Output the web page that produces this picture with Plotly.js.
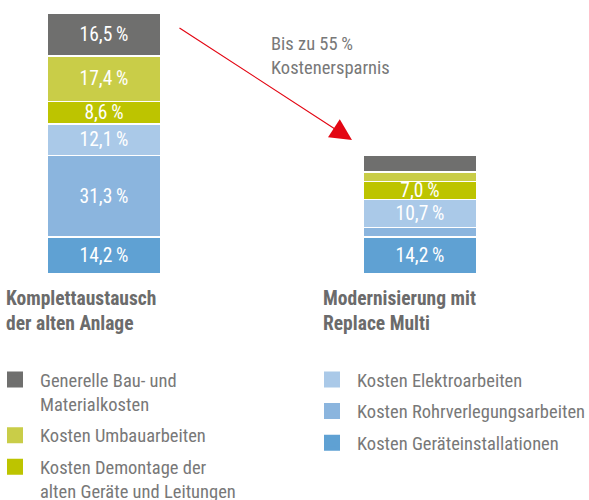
<!DOCTYPE html>
<html><head><meta charset="utf-8">
<script src="https://cdn.plot.ly/plotly-3.0.1.min.js"></script>
<style>body{margin:0;background:#fff}</style>
</head><body><div id="chart" style="width:589px;height:500px"></div>
<script>
// ---- data ----
const categories = ['Komplettaustausch<br>der alten Anlage', 'Modernisierung mit<br>Replace Multi'];
const seriesNames = [
  'Kosten Geräteinstallationen',
  'Kosten Rohrverlegungsarbeiten',
  'Kosten Elektroarbeiten',
  'Kosten Demontage der<br>alten Geräte und Leitungen',
  'Kosten Umbauarbeiten',
  'Generelle Bau- und<br>Materialkosten'
];
const geraeteinstallationen = [14.2, 14.2];
const rohrverlegung = [31.3, 3.6];
const elektro = [12.1, 10.7];
const demontage = [8.6, 7.0];
const umbau = [17.4, 3.6];
const generelle = [16.5, 6.5];
// which values carry a printed label
const geraeteShown = [true, true];
const rohrShown = [true, false];
const elektroShown = [true, true];
const demontageShown = [true, true];
const umbauShown = [true, false];
const generelleShown = [true, false];
const annotationText = 'Bis zu 55\u2009%<br>Kostenersparnis';

// ---- styles ----
const colors = ['#5fa1d3', '#8bb5de', '#aac9e8', '#bdc400', '#c9cd48', '#6f6f6e'];
const FONT = '"Roboto Condensed", "DejaVu Sans Condensed", sans-serif';
const FS = 18.5;
const values = [geraeteinstallationen, rohrverlegung, elektro, demontage, umbau, generelle];
const shown = [geraeteShown, rohrShown, elektroShown, demontageShown, umbauShown, generelleShown];
const fmt = v => v.toFixed(1).replace('.', ',') + '\u2009%';

const traces = [];
values.forEach((vals, i) => {
  traces.push({
    type: 'bar', x: categories, y: vals, name: seriesNames[i],
    text: vals.map((v, j) => shown[i][j] ? fmt(v) : ''),
    textposition: 'inside', insidetextanchor: 'middle', textangle: 0,
    constraintext: 'none', cliponaxis: false,
    textfont: {family: FONT, size: 19.5, color: '#ffffff'},
    marker: {color: colors[i], line: {color: '#ffffff', width: 1.6}},
    width: 0.36, showlegend: false, hoverinfo: 'skip'
  });
});
// legend entries (same series, legend-only), top-of-stack first
for (let i = values.length - 1; i >= 0; i--) {
  traces.push({
    type: 'bar', x: [null], y: [null], name: seriesNames[i],
    marker: {color: colors[i], line: {color: colors[i], width: 4}},
    legend: i >= 3 ? 'legend' : 'legend2', legendgroup: 'g' + i,
    showlegend: true, hoverinfo: 'skip'
  });
}

const H = 261, TOP = 13;
const py = p => (TOP + H - p) / H;
const legendCommon = {
  orientation: 'v', traceorder: 'reversed+grouped', valign: 'top',
  font: {family: FONT, size: FS, color: '#787878'},
  itemwidth: 40, tracegroupgap: 4.5, bgcolor: 'rgba(0,0,0,0)',
  itemclick: false, itemdoubleclick: false,
  xanchor: 'left', yanchor: 'top'
};

const layout = {
  width: 589, height: 500,
  margin: {l: 0, r: 0, t: TOP, b: 500 - TOP - H, pad: 0, autoexpand: false},
  paper_bgcolor: '#ffffff', plot_bgcolor: '#ffffff',
  barmode: 'stack', bargap: 0,
  xaxis: {type: 'category', range: [-0.329, 1.535], visible: false, fixedrange: true},
  yaxis: {range: [0, 100.1], visible: false, fixedrange: true},
  legend: Object.assign({}, legendCommon, {x: -10 / 589, y: py(361)}),
  legend2: Object.assign({}, legendCommon, {x: 307 / 589, y: py(361)}),
  annotations: [
    {xref: 'paper', yref: 'paper', x: 4 / 589, y: py(285), xanchor: 'left', yanchor: 'top', align: 'left',
     text: '<b>' + categories[0] + '</b>', showarrow: false,
     font: {family: FONT, size: 19.5, color: '#6b6b6b'}},
    {xref: 'paper', yref: 'paper', x: 321 / 589, y: py(285), xanchor: 'left', yanchor: 'top', align: 'left',
     text: '<b>' + categories[1] + '</b>', showarrow: false,
     font: {family: FONT, size: 19.5, color: '#6b6b6b'}},
    {xref: 'paper', yref: 'paper', x: 269 / 589, y: py(31), xanchor: 'left', yanchor: 'top', align: 'left',
     text: annotationText, showarrow: false,
     font: {family: FONT, size: FS, color: '#787878'}},
    {xref: 'paper', yref: 'paper', x: 352 / 589, y: py(140), text: '', showarrow: true,
     ax: -174, ay: -113, arrowhead: 2, arrowsize: 3.6, arrowwidth: 1.2, arrowcolor: '#e30613', standoff: 0}
  ]
};

Plotly.newPlot('chart', traces, layout, {displayModeBar: false, staticPlot: true});
</script></body></html>
